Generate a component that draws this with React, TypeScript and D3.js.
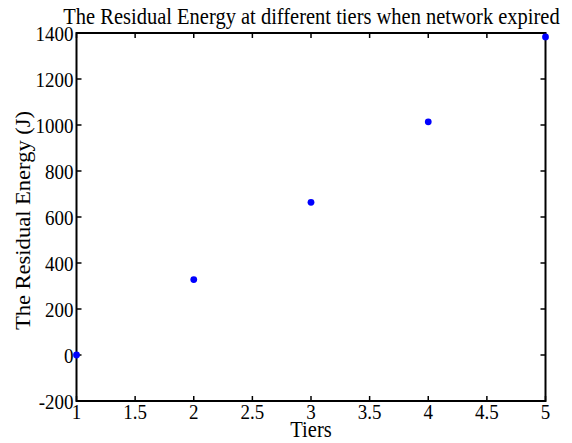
import React from "react";
import * as d3 from "d3";

const tiers = [1, 2, 3, 4, 5];
const residualEnergy = [0, 328, 664, 1014, 1383];
const xTicks = [1, 1.5, 2, 2.5, 3, 3.5, 4, 4.5, 5];
const yTicks = [-200, 0, 200, 400, 600, 800, 1000, 1200, 1400];

const W = 572, H = 443;
const M = { left: 76.5, right: 545.5, top: 33, bottom: 401 };
const font = "'Liberation Serif', 'Times New Roman', serif";
const SY = 1.1;

function T({ x, y, anchor = "middle", size, children }: any) {
  return (
    <text transform={`translate(${x},${y}) scale(1,${SY})`} textAnchor={anchor} fontFamily={font} fontSize={size}>
      {children}
    </text>
  );
}

export default function App() {
  const x = d3.scaleLinear().domain([1, 5]).range([M.left, M.right]);
  const y = d3.scaleLinear().domain([-200, 1400]).range([M.bottom, M.top]);
  return (
    <svg width={W} height={H} style={{ position: "absolute", left: 0, top: 0, background: "#fff" }}>
      <rect x={0} y={0} width={W} height={H} fill="#fff" />
      <T x={311.5} y={23.5} size={20.5}>The Residual Energy at different tiers when network expired</T>
      {xTicks.map((t) => (
        <g key={"x" + t}>
          <line x1={x(t)} x2={x(t)} y1={M.bottom} y2={M.bottom - 5} stroke="#000" strokeWidth={1.5} />
          <line x1={x(t)} x2={x(t)} y1={M.top} y2={M.top + 5} stroke="#000" strokeWidth={1.5} />
          <T x={x(t)} y={M.bottom + 18} size={19}>{t}</T>
        </g>
      ))}
      {yTicks.map((t) => (
        <g key={"y" + t}>
          <line x1={M.left} x2={M.left + 5} y1={y(t)} y2={y(t)} stroke="#000" strokeWidth={1.5} />
          <line x1={M.right} x2={M.right - 5} y1={y(t)} y2={y(t)} stroke="#000" strokeWidth={1.5} />
          <T x={M.left - 3} y={y(t) + 7.5} anchor="end" size={19}>{t}</T>
        </g>
      ))}
      <rect x={M.left} y={M.top} width={M.right - M.left} height={M.bottom - M.top} fill="none" stroke="#000" strokeWidth={2} />
      {tiers.map((t, i) => (
        <circle key={"p" + t} cx={x(t)} cy={y(residualEnergy[i])} r={3.4} fill="#0000ff" />
      ))}
      <T x={311} y={437} size={20.5}>Tiers</T>
      <text transform={`translate(30,220.5) rotate(-90) scale(${SY},1)`} textAnchor="middle" fontFamily={font} fontSize={20.5}>
        The Residual Energy (J)
      </text>
    </svg>
  );
}
